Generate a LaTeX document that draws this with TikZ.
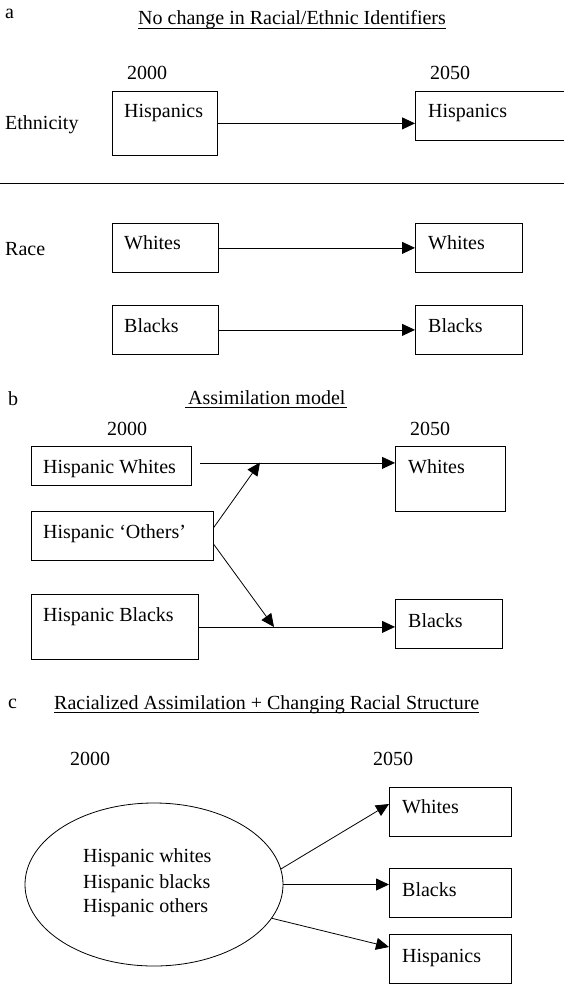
\documentclass[tikz,border=0pt]{standalone}
\usepackage{fontspec}
\setmainfont{Liberation Serif}
\usetikzlibrary{arrows.meta,shapes.geometric,calc}
\begin{document}
\begin{tikzpicture}[x=1pt,y=-1pt,
  lbl/.style={inner sep=0pt,anchor=base west,font=\fontsize{20}{24}\selectfont},
  boxr/.style={draw,line width=0.8pt,inner sep=0pt,anchor=north west},
  conn/.style={line width=0.8pt,-{Triangle[length=13pt,width=12pt]}},
  uline/.style={line width=0.8pt}]
\useasboundingbox (0,0) rectangle (564,984);
% ---------- a ----------
\node[lbl] (la) at (5,19) {a};
\node[lbl] (ta) at (138,25) {No change in Racial/Ethnic Identifiers};
\draw[uline] ($(ta.base west)+(0,3.5)$) -- ($(ta.base east)+(0,3.5)$);
\node[lbl] (ya1) at (127,80) {2000};
\node[lbl] (ya2) at (430,80) {2050};
\node[lbl] (eth) at (5,130) {Ethnicity};
\node[lbl] (race) at (5,255) {Race};
\node[boxr,minimum width=105pt,minimum height=64pt] (hL) at (112,91) {};
\node[boxr,minimum width=153pt,minimum height=49pt] (hR) at (415,91) {};
\node[boxr,minimum width=106pt,minimum height=49pt] (wL) at (112,223) {};
\node[boxr,minimum width=107pt,minimum height=49pt] (wR) at (415,223) {};
\node[boxr,minimum width=106pt,minimum height=49pt] (bL) at (112,305) {};
\node[boxr,minimum width=107pt,minimum height=49pt] (bR) at (415,305) {};
\node[lbl] at (124,118) {Hispanics};
\node[lbl] at (428,118) {Hispanics};
\node[lbl] at (124,249) {Whites};
\node[lbl] at (428,249) {Whites};
\node[lbl] at (124,332) {Blacks};
\node[lbl] at (428,332) {Blacks};
\draw[conn] (hL.east) -- (hL.east -| hR.west);
\draw[conn] (wL.east) -- (wL.east -| wR.west);
\draw[conn] (bL.east) -- (bL.east -| bR.west);
\coordinate (dl) at (0,183);
\coordinate (dr) at (564,183);
\draw[line width=0.8pt] (dl) -- (dr);
% ---------- b ----------
\node[lbl] (lb) at (8,405) {b};
\node[lbl] (tb) at (188,404) {Assimilation model};
\draw[uline] ($(tb.base west)+(-3,3.5)$) -- ($(tb.base east)+(1,3.5)$);
\node[lbl] (yb1) at (107,435) {2000};
\node[lbl] (yb2) at (410,435) {2050};
\node[boxr,minimum width=160pt,minimum height=39pt] (hw) at (31,446) {};
\node[boxr,minimum width=182pt,minimum height=49pt] (ho) at (31,511) {};
\node[boxr,minimum width=167pt,minimum height=65pt] (hb) at (31,594) {};
\node[boxr,minimum width=110pt,minimum height=65pt] (W) at (395,446) {};
\node[boxr,minimum width=107pt,minimum height=49pt] (B) at (395,599) {};
\node[lbl] at (43,473) {Hispanic Whites};
\node[lbl] at (43,538) {Hispanic `Others'};
\node[lbl] at (43,621) {Hispanic Blacks};
\node[lbl] at (408,473) {Whites};
\node[lbl] at (408,627) {Blacks};
\coordinate (j1) at (260,462.5);
\coordinate (j2) at (274,627);
\draw[conn] ($(hw.east)+(8,-3)$) -- ($(hw.east -| W.west)+(0,-3)$);
\draw[conn] ($(ho.east)+(0,-8.5)$) -- (j1);
\draw[conn] ($(ho.east)+(0,8.5)$) -- (j2);
\draw[conn] (hb.east) -- (hb.east -| B.west);
% ---------- c ----------
\node[lbl] (lc) at (8,708) {c};
\node[lbl] (tc) at (54,709) {Racialized Assimilation + Changing Racial Structure};
\draw[uline] ($(tc.base west)+(0,3.5)$) -- ($(tc.base east)+(0,3.5)$);
\node[lbl] (yc1) at (70,765) {2000};
\node[lbl] (yc2) at (373,765) {2050};
\node[draw,ellipse,line width=0.8pt,inner sep=0pt,minimum width=258pt,minimum height=163pt] (ell) at (154,884.5) {};
\node[lbl] at (83,862) {Hispanic whites};
\node[lbl] at (83,888) {Hispanic blacks};
\node[lbl] at (83,912) {Hispanic others};
\node[boxr,minimum width=122pt,minimum height=49pt] (cW) at (389,787) {};
\node[boxr,minimum width=122pt,minimum height=49pt] (cB) at (389,868) {};
\node[boxr,minimum width=122pt,minimum height=49pt] (cH) at (389,934) {};
\node[lbl] at (402,813) {Whites};
\node[lbl] at (402,896) {Blacks};
\node[lbl] at (402,962) {Hispanics};
\draw[conn] (ell.7) -- ($(cW.north west)+(0,17)$);
\draw[conn] (ell.east) -- (ell.east -| cB.west);
\draw[conn] (ell.-16) -- ($(cH.north west)+(0,13)$);
\end{tikzpicture}
\end{document}
